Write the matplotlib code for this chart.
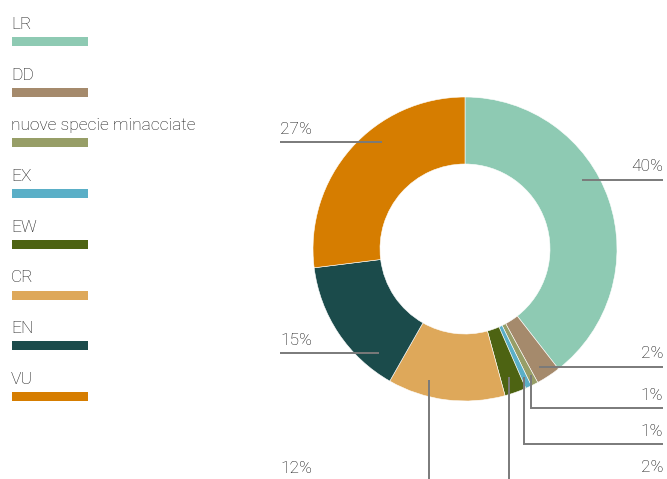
import matplotlib
matplotlib.use("Agg")
import matplotlib.pyplot as plt
import numpy as np
from matplotlib.patches import Rectangle

# ---- data ----
categories = ["LR", "DD", "nuove specie minacciate", "EX", "EW", "CR", "EN", "VU"]
values = [39.5, 2.6, 0.75, 0.65, 2.3, 12.5, 14.8, 27.0]
pct_labels = ["40%", "2%", "1%", "1%", "2%", "12%", "15%", "27%"]
colors = ["#8ECAB3", "#A58A6C", "#979E67", "#5AAFC7", "#4D6312",
          "#DEA85A", "#1B4B4B", "#D67D00"]

W, H = 667, 479
fig = plt.figure(figsize=(W / 100, H / 100), dpi=100)
ax = fig.add_axes([0, 0, 1, 1])

def P(x, y):
    return (x, H - y)

cx, cy = 465, 249
R_out, R_in = 152, 85
ax.pie(values, colors=colors, startangle=90, counterclock=False,
       center=P(cx, cy), radius=R_out,
       wedgeprops=dict(width=R_out - R_in, edgecolor="white", linewidth=0.4))
ax.set_xlim(0, W)
ax.set_ylim(0, H)
ax.set_aspect("equal")
ax.axis("off")

FONT = ["Roboto", "DejaVu Sans"]
TXT = "#111111"
LINE = "#7a7a7a"
FS = 12.5
FW = "light"

# ---- legend ----
for i, (cat, col) in enumerate(zip(categories, colors)):
    bar_top = 37 + i * 50.7
    ax.add_patch(Rectangle(P(12, bar_top + 9), 76, 9, facecolor=col, edgecolor="none"))
    ax.text(*P(11, bar_top - 8), cat, fontsize=FS, family=FONT, color=TXT,
            fontweight=FW, ha="left", va="baseline")

# ---- leader lines ----
def polar(angle_deg, r):
    a = np.deg2rad(angle_deg)
    return (cx + r * np.sin(a), cy - r * np.cos(a))

# (label index, anchor angle clockwise from top, anchor radius, path type, params)
leaders = [
    (0, 59.5, 136, "h", dict(y=180, x_end=663, text_xy=(663, 171), ha="right")),
    (1, 148.0, 139, "h", dict(y=367, x_end=663, text_xy=(663, 358), ha="right")),
    (2, 152.4, 142, "vh", dict(y=408, x_end=663, text_xy=(663, 400), ha="right")),
    (3, 155.2, 141, "vh", dict(y=444, x_end=663, text_xy=(663, 436), ha="right")),
    (4, 161.0, 135, "v", dict(y=479, text_xy=(663, 472), ha="right")),
    (5, 195.4, 136, "v", dict(y=479, text_xy=(280, 473), ha="left")),
    (6, 219.6, 135, "h", dict(y=353, x_end=280, text_xy=(280, 345), ha="left")),
    (7, 322.0, 135, "h", dict(y=142, x_end=280, text_xy=(280, 134), ha="left")),
]

for idx, ang, r, kind, p in leaders:
    ax_, ay_ = polar(ang, r)
    if kind == "h":
        xs, ys = [ax_, p["x_end"]], [p["y"], p["y"]]
    elif kind == "vh":
        xs, ys = [ax_, ax_, p["x_end"]], [ay_, p["y"], p["y"]]
    else:
        xs, ys = [ax_, ax_], [ay_, p["y"]]
    ax.plot(xs, [H - y for y in ys], color=LINE, lw=1.4, solid_capstyle="butt",
            solid_joinstyle="miter")
    ax.text(*P(*p["text_xy"]), pct_labels[idx], fontsize=FS, family=FONT,
            color=TXT, fontweight=FW, ha=p["ha"], va="baseline")

fig.savefig("out.png", dpi=100)
